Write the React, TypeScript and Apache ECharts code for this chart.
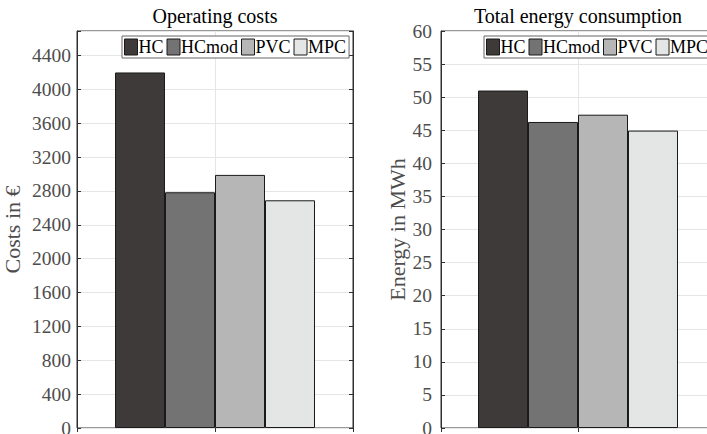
import React, { useEffect, useRef } from "react";
import * as echarts from "echarts";

const categories = ["HC", "HCmod", "PVC", "MPC"];
const costs = [4200, 2785, 2990, 2690];
const energy = [51, 46.25, 47.35, 44.95];
const barColors = ["#3d3a39", "#737373", "#b5b6b5", "#e4e6e5"];
const titles = ["Operating costs", "Total energy consumption"];
const yNames = ["Costs in €", "Energy in MWh"];
const costAxis = { min: 0, max: 4690, interval: 400 };
const energyAxis = { min: 0, max: 60, interval: 5 };

const FONT = "Liberation Serif";
const GRAY = "#4d4d4d";
const AXIS = "#303030";

export default function App() {
  const ref = useRef<HTMLDivElement>(null);
  useEffect(() => {
    if (!ref.current) return;
    const chart = echarts.init(ref.current, undefined, { renderer: "svg" });
    const grids = [
      { left: 77, top: 31, width: 276, height: 397 },
      { left: 441, top: 31, width: 274, height: 397 },
    ];
    const axesCfg = [costAxis, energyAxis];
    const dataSets = [costs, energy];

    const xAxis: any[] = [];
    const yAxis: any[] = [];
    const series: any[] = [];
    grids.forEach((g, gi) => {
      xAxis.push({
        gridIndex: gi,
        type: "category",
        data: [""],
        axisLine: { show: false },
        axisTick: { show: false },
        axisLabel: { show: false },
        splitLine: { show: false },
      });
      xAxis.push({
        gridIndex: gi,
        type: "value",
        min: 0,
        max: 2,
        interval: 1,
        position: "top",
        axisLine: { show: false },
        axisTick: { show: true, inside: true, length: 4, lineStyle: { color: AXIS } },
        axisLabel: { show: false },
        splitLine: { show: true, lineStyle: { color: "#e6e6e6", width: 1 } },
      });
      const ac = axesCfg[gi];
      yAxis.push({
        gridIndex: gi,
        type: "value",
        min: ac.min,
        max: ac.max,
        interval: ac.interval,
        position: "left",
        name: yNames[gi],
        nameLocation: "middle",
        nameGap: gi === 0 ? 54 : 31,
        nameTextStyle: { fontFamily: FONT, fontSize: 22, color: GRAY },
        axisLine: { show: true, lineStyle: { color: AXIS, width: 1 } },
        axisTick: { show: true, inside: true, length: 4, lineStyle: { color: AXIS } },
        axisLabel: {
          show: true,
          margin: gi === 0 ? 6 : 9,
          fontFamily: FONT,
          fontSize: 19.5,
          color: GRAY,
          formatter: (v: number) => (Math.abs(v % ac.interval) < 1e-9 ? String(v) : ""),
        },
        splitLine: { show: true, lineStyle: { color: "#e6e6e6", width: 1 } },
      });
      yAxis.push({
        gridIndex: gi,
        type: "value",
        min: ac.min,
        max: ac.max,
        interval: ac.interval,
        position: "right",
        axisLine: { show: true, lineStyle: { color: AXIS, width: 1 } },
        axisTick: { show: true, inside: true, length: 4, lineStyle: { color: AXIS } },
        axisLabel: { show: false },
        splitLine: { show: false },
      });
      categories.forEach((c, ci) => {
        series.push({
          type: "bar",
          name: c,
          xAxisIndex: gi * 2,
          yAxisIndex: gi * 2,
          data: [dataSets[gi][ci]],
          barWidth: 50,
          barGap: "0%",
          itemStyle: { color: barColors[ci], borderColor: "#1a1a1a", borderWidth: 1 },
          emphasis: { disabled: true },
        });
      });
    });

    const legendBase = {
      data: categories,
      top: 36,
      width: 260,
      orient: "horizontal",
      icon: "rect",
      itemWidth: 13,
      itemHeight: 16,
      itemGap: 3,
      padding: [2, 3, 2, 2],
      borderColor: "#666",
      borderWidth: 1,
      backgroundColor: "#fff",
      textStyle: { fontFamily: FONT, fontSize: 18, color: "#000", padding: [0, 0, 0, -4] },
      itemStyle: { borderColor: "#1a1a1a", borderWidth: 1 },
      selectedMode: false,
    };

    chart.setOption({
      animation: false,
      backgroundColor: "#fff",
      grid: grids.map((g) => ({
        ...g,
        show: true,
        borderColor: AXIS,
        borderWidth: 1,
        backgroundColor: "#fff",
        containLabel: false,
        outerBoundsMode: "none",
      })),
      xAxis,
      yAxis,
      series,
      legend: [
        { ...legendBase, left: 122 },
        { ...legendBase, left: 484 },
      ],
      graphic: titles.map((t, i) => ({
        type: "text",
        x: i === 0 ? 215 : 578,
        y: 16,
        style: {
          text: t,
          fontFamily: FONT,
          fontSize: 20,
          fill: "#000",
          textAlign: "center",
          textVerticalAlign: "middle",
        },
      })),
    });
    return () => chart.dispose();
  }, []);
  return (
    <div
      ref={ref}
      style={{ position: "fixed", left: 0, top: 0, width: 707, height: 434 }}
    />
  );
}
